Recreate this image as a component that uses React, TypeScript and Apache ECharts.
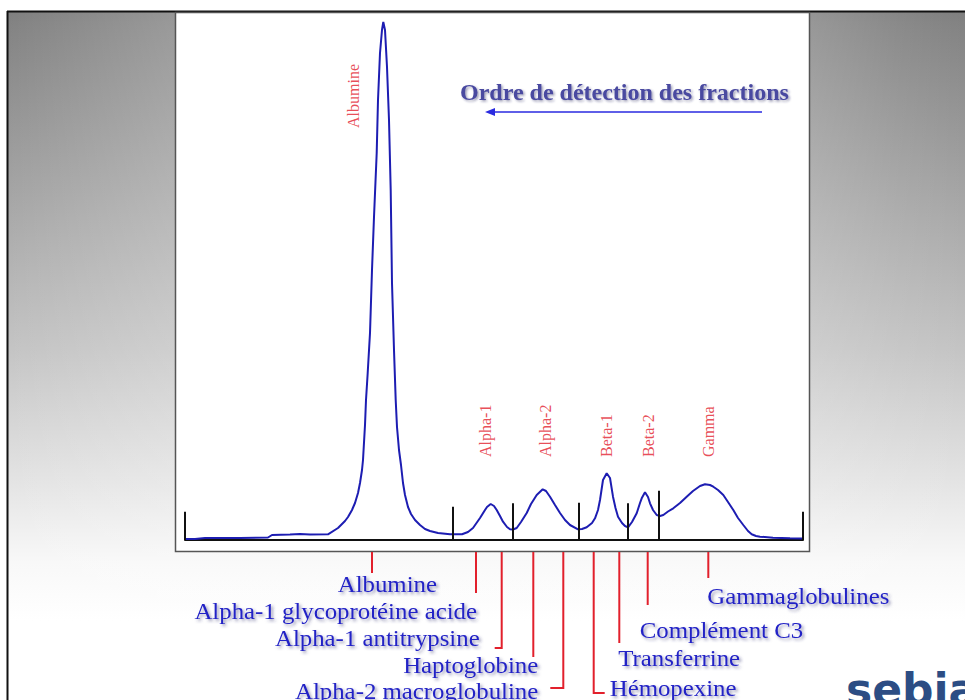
import React, { useEffect, useRef } from "react";
import * as echarts from "echarts";

// Densitogram (electrophoresis trace): migration position vs. intensity
const curveX = [0, 10, 20, 55, 83, 87, 105, 115, 125, 143, 153, 160, 163, 167, 170, 173, 175, 177, 178, 180, 181, 182.7, 185, 187, 189, 191.7, 193, 195, 197, 198.3, 200, 202, 204, 205.7, 207, 209, 210.7, 212, 214, 216, 218, 220, 223, 226, 230, 235, 240, 245, 253, 265, 277, 283, 288, 295, 300, 302, 305.7, 309, 311.7, 315, 318, 322, 325, 328, 331.7, 336, 341.7, 346, 351.7, 357.7, 361, 365, 370, 375, 380, 385, 393, 397, 401.7, 407, 410, 413, 415, 418, 421.7, 425, 428, 430.5, 433, 437, 440, 443, 447, 451.7, 455, 456.7, 460, 463, 465, 468, 471.7, 475, 478.3, 483, 488.3, 495, 501.7, 508, 515, 520, 525, 528.3, 533, 538.3, 543, 548.3, 553, 558.3, 563, 566.7, 571, 575, 588, 605, 618];
const curveY = [1, 1, 2, 2, 2.5, 5, 5.5, 6, 5.5, 5.7, 12, 19, 23, 30, 37, 47, 57, 70, 80, 115, 140, 167, 207, 270, 323, 387, 440, 487, 510, 518, 510, 473, 420, 350, 257, 190, 140, 113, 90, 75, 57, 45, 33, 26, 20, 15, 11, 9, 7, 5.7, 5.7, 8, 12, 22, 30, 33, 36, 34, 30, 24, 18.3, 13, 10.7, 10.5, 12, 18, 27, 36, 45, 50.7, 49, 43.3, 35, 27, 20, 15, 10.7, 11, 12.7, 17, 21.7, 30, 40, 60, 66.7, 62, 43.3, 32, 23.3, 17, 14, 12.7, 18, 26.7, 37, 41.7, 47.7, 43, 36.7, 30, 25, 24, 25, 28.5, 31.7, 37, 43.3, 49, 54, 55.7, 55, 53.3, 50, 45, 38, 30, 22, 15, 9, 5.7, 4, 3.3, 2.3, 1.7, 1.5];

// Fraction boundaries (black separators) and their heights
const separatorX = [0, 267.7, 327.7, 393.3, 442.7, 473.7, 618];
const separatorH = [28.3, 33.3, 36.7, 37.3, 36.7, 49.3, 28.3];

// Fraction names (red, rotated) with position and label base height
const fractionNames = ["Albumine", "Alpha-1", "Alpha-2", "Beta-1", "Beta-2", "Gamma"];
const fractionX = [168, 300, 360, 421, 463, 523];
const fractionLabelY = [412, 83, 83, 83, 83, 83];

// Individual proteins and their migration positions
const proteinNames = [
  "Albumine",
  "Alpha-1 glycoprotéine acide",
  "Alpha-1 antitrypsine",
  "Haptoglobine",
  "Alpha-2 macroglobuline",
  "Hémopexine",
  "Transferrine",
  "Complément C3",
  "Gammaglobulines",
];
const proteinX = [187, 291, 316.7, 348.3, 378.3, 408.7, 434.3, 462.7, 523.3];

const titleText = "Ordre de détection des fractions";
const logoText = "sebia";

// Layout of the annotation callouts (pixel offsets, not data)
type Callout = { lineEnd: number; hook?: number; textX: number; textY: number; align: "left" | "right" | "center" };
const calloutLayout: Callout[] = [
  { lineEnd: 573, textX: 65, textY: 584, align: "right" },
  { lineEnd: 593, textX: 1, textY: 611, align: "right" },
  { lineEnd: 648, hook: -7, textX: -22, textY: 638, align: "right" },
  { lineEnd: 657, textX: 5, textY: 665, align: "right" },
  { lineEnd: 688, hook: -13, textX: -25, textY: 691, align: "right" },
  { lineEnd: 693, hook: 11, textX: 16, textY: 688, align: "left" },
  { lineEnd: 643, textX: -1, textY: 658, align: "left" },
  { lineEnd: 605, textX: -8, textY: 630, align: "left" },
  { lineEnd: 578, textX: -1, textY: 596, align: "left" },
];

const BLUE_TEXT = "#2424c6";
const RED = "#e2202c";

export default function App() {
  const ref = useRef<HTMLDivElement>(null);

  useEffect(() => {
    if (!ref.current) return;
    const chart = echarts.init(ref.current, undefined, { renderer: "svg" });

    const curve = curveX.map((x, i) => [x, curveY[i]]);
    const labels = fractionNames.map((n, i) => ({ name: n, value: [fractionX[i], fractionLabelY[i]] }));

    const staticGraphics: any[] = [
      { type: "line", z: -99, silent: true, shape: { x1: 7, y1: 11.5, x2: 965, y2: 11.5 }, style: { stroke: "#111", lineWidth: 2 } },
      { type: "line", z: -99, silent: true, shape: { x1: 7.5, y1: 11, x2: 7.5, y2: 700 }, style: { stroke: "#111", lineWidth: 2 } },
      { type: "rect", z: -98, silent: true, shape: { x: 175.5, y: 12.5, width: 634, height: 539 }, style: { fill: "#ffffff", stroke: "#555", lineWidth: 1.5 } },
      {
        type: "text",
        z: 10,
        silent: true,
        x: 460,
        y: 92,
        style: {
          text: titleText,
          fill: "#4848a0",
          font: 'bold 24px "Liberation Serif", serif',
          verticalAlign: "middle",
          textShadowColor: "rgba(40,40,90,0.45)",
          textShadowBlur: 2,
          textShadowOffsetX: 1.5,
          textShadowOffsetY: 1.5,
        },
      },
      { type: "line", z: 10, silent: true, shape: { x1: 492, y1: 112, x2: 762, y2: 112 }, style: { stroke: "#2a2ae0", lineWidth: 1.6 } },
      { type: "polygon", z: 10, silent: true, shape: { points: [[485, 112], [495, 108], [495, 116]] }, style: { fill: "#2a2ae0" } },
      {
        type: "text",
        z: 10,
        silent: true,
        x: 846,
        y: 711,
        style: {
          text: logoText,
          fill: "#2c4d84",
          font: 'bold 44px "DejaVu Sans", sans-serif',
          verticalAlign: "bottom",
        },
      },
    ];

    chart.setOption({
      animation: false,
      backgroundColor: "transparent",
      grid: { left: 185, right: 162, top: 20, bottom: 160, containLabel: false },
      xAxis: {
        type: "value",
        min: 0,
        max: 618,
        axisLine: { show: true, lineStyle: { color: "#111", width: 2 } },
        axisTick: { show: false },
        axisLabel: { show: false },
        splitLine: { show: false },
      },
      yAxis: {
        type: "value",
        min: 0,
        max: 520,
        show: false,
        splitLine: { show: false },
      },
      graphic: staticGraphics,
      series: [
        {
          type: "line",
          name: "Densitogramme",
          data: curve,
          showSymbol: false,
          smooth: false,
          lineStyle: { color: "#1d1db2", width: 2 },
          z: 3,
          markLine: {
            silent: true,
            symbol: ["none", "none"],
            label: { show: false },
            lineStyle: { color: "#111", width: 2, type: "solid" },
            data: separatorX.map((x, i) => [{ coord: [x, 0] }, { coord: [x, separatorH[i]] }]),
          },
        },
        {
          type: "scatter",
          name: "Fractions",
          data: labels,
          symbolSize: 0,
          silent: true,
          z: 4,
          label: {
            show: true,
            position: "inside",
            formatter: (p: any) => p.name,
            rotate: 90,
            align: "left",
            verticalAlign: "middle",
            color: RED,
            fontSize: 16,
            fontFamily: '"Liberation Serif", serif',
          },
        },
      ],
    });

    // Callouts below the plot, positioned through the x axis scale
    const dyn: any[] = [];
    proteinX.forEach((x, i) => {
      const px = chart.convertToPixel({ xAxisIndex: 0 }, x) as number;
      const L = calloutLayout[i];
      const pts: number[][] = [[px, 552], [px, L.lineEnd]];
      if (L.hook !== undefined) pts.push([px + L.hook, L.lineEnd]);
      dyn.push({
        type: "polyline",
        z: 10,
        silent: true,
        shape: { points: pts },
        style: { stroke: RED, lineWidth: 2, fill: "none" },
      });
      dyn.push({
        type: "text",
        z: 10,
        silent: true,
        x: px + L.textX,
        y: L.textY,
        scaleX: 1.08,
        style: {
          text: proteinNames[i],
          fill: BLUE_TEXT,
          font: '23px "Liberation Serif", serif',
          align: L.align,
          verticalAlign: "middle",
          textShadowColor: "rgba(50,50,110,0.5)",
          textShadowBlur: 3,
          textShadowOffsetX: 2,
          textShadowOffsetY: 2,
        },
      });
    });

    chart.setOption({ graphic: staticGraphics.concat(dyn) });

    return () => chart.dispose();
  }, []);

  const bg =
    "linear-gradient(to right, rgba(255,255,255,0) 0%, rgba(255,255,255,0.18) 17%, rgba(255,255,255,0.18) 83%, rgba(255,255,255,0.06) 93%, rgba(255,255,255,0) 100%), " +
    "linear-gradient(to bottom, #7e7e7e 0%, #838383 2%, #9c9c9c 20%, #c4c4c4 49%, #e4e4e4 68.5%, #f8f8f8 80%, #ffffff 88.5%, #ffffff 100%)";

  return (
    <div style={{ position: "fixed", left: 0, top: 0, width: 965, height: 700, background: "#ffffff", overflow: "hidden" }}>
      <div style={{ position: "absolute", left: 7, top: 11, width: 958, height: 689, backgroundImage: bg }} />
      <div ref={ref} style={{ position: "absolute", left: 0, top: 0, width: 965, height: 700 }} />
    </div>
  );
}
